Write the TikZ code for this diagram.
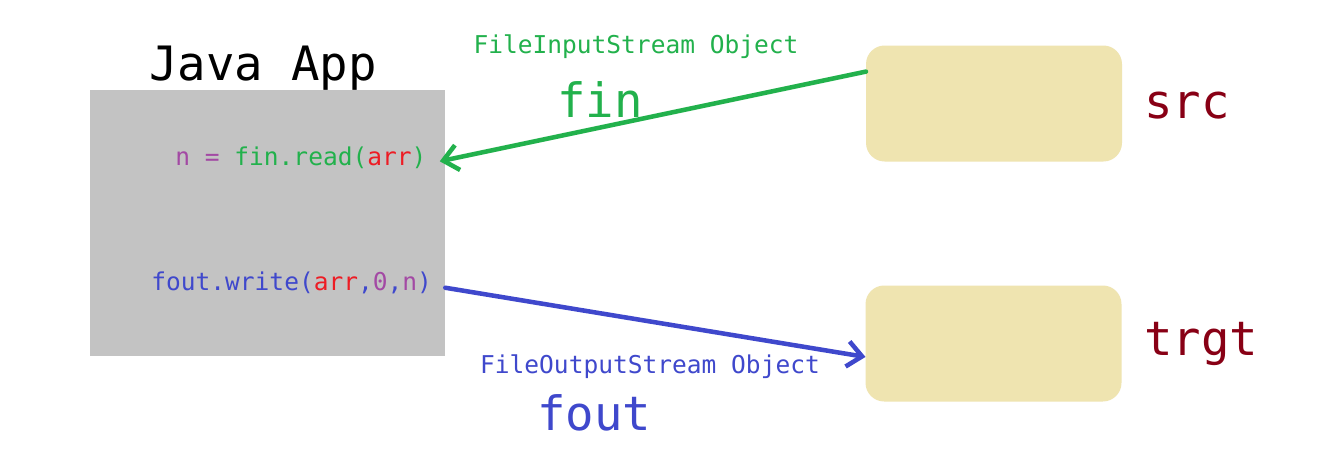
\documentclass[tikz,border=0pt]{standalone}
\usepackage{fontspec}
\usepackage{xcolor}
\setmonofont{DejaVu Sans Mono}
\usetikzlibrary{arrows.meta}
\definecolor{fingreen}{HTML}{22B14C}
\definecolor{foutblue}{HTML}{3F48CC}
\definecolor{varpurple}{HTML}{A349A4}
\definecolor{arrred}{HTML}{ED1C24}
\definecolor{filered}{HTML}{880015}
\definecolor{filetan}{HTML}{EFE4B0}
\definecolor{appgray}{HTML}{C3C3C3}

\begin{document}
\begin{tikzpicture}[x=0.75pt, y=-0.75pt,
  every node/.style={inner sep=0pt, outer sep=0pt},
  codetext/.style={font=\ttfamily\fontsize{18.4}{22}\selectfont, anchor=base west, outer xsep=10pt},
  bigtext/.style={font=\ttfamily\fontsize{35.5}{42}\selectfont, anchor=base},
  smalltext/.style={font=\ttfamily\fontsize{18.4}{22}\selectfont, anchor=base},
  filebox/.style={fill=filetan, rounded corners=14pt, minimum width=192pt, minimum height=87pt},
  streamarrow/.style={line width=3.4pt, line cap=round, -{Straight Barb[length=11pt,width=19pt]}}]
  \useasboundingbox[fill=white] (0,0) rectangle (1335,471);
  \node[fill=appgray, minimum width=266.25pt, minimum height=199.5pt] (app) at (267.5,223) {};
  \node[bigtext] (apptitle) at (263,80) {Java App};
  \node[codetext] (read) at (162,165) {\textcolor{varpurple}{n =} \textcolor{fingreen}{fin.read(}\textcolor{arrred}{arr}\textcolor{fingreen}{)}};
  \node[codetext] (write) at (138,290) {\textcolor{foutblue}{fout.write(}\textcolor{arrred}{arr}\textcolor{foutblue}{,}\textcolor{varpurple}{0}\textcolor{foutblue}{,}\textcolor{varpurple}{n}\textcolor{foutblue}{)}};
  \node[filebox] (src) at (994,103.5) {};
  \node[filebox] (trgt) at (993.5,343.5) {};
  \node[bigtext, text=filered] (srclabel) at (1187,118) {src};
  \node[bigtext, text=filered] (trgtlabel) at (1201,355) {trgt};
  \node[smalltext, text=fingreen] (finobj) at (636,53) {FileInputStream Object};
  \node[bigtext, text=fingreen] (finlabel) at (600,117) {fin};
  \node[smalltext, text=foutblue] (foutobj) at (650,373) {FileOutputStream Object};
  \node[bigtext, text=foutblue] (foutlabel) at (594,430) {fout};
  \draw[streamarrow, fingreen] (src.166) -- ([yshift=-3pt]read.east);
  \draw[streamarrow, foutblue] ([yshift=-4pt]write.east) -- (trgt.186);
\end{tikzpicture}
\end{document}
